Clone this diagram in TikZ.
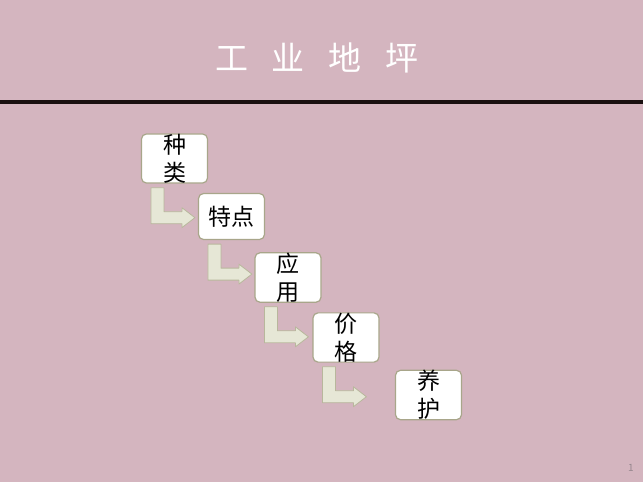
\documentclass[tikz,border=0pt]{standalone}
\usepackage{fontspec}
\setmainfont{Noto Sans CJK SC}
\usetikzlibrary{positioning,calc}

\definecolor{bgpink}{RGB}{212,181,191}
\definecolor{boxline}{RGB}{168,166,138}
\definecolor{arrowfill}{RGB}{230,231,214}
\definecolor{arrowline}{RGB}{184,183,156}
\definecolor{rulecol}{RGB}{26,16,16}
\definecolor{pagecol}{RGB}{150,135,142}

\tikzset{
  box/.style={draw=boxline, line width=1.2pt, fill=white, rounded corners=5pt,
    minimum width=66pt, minimum height=46pt, inner sep=0pt, align=center,
    font=\fontsize{23}{28}\selectfont},
  bentarrow/.style={draw=arrowline, line width=0.8pt, fill=arrowfill, line join=round}
}

\begin{document}
\begin{tikzpicture}[x=1pt, y=-1pt, on grid]
      \fill[bgpink] (0,0) rectangle (643,482);
      \useasboundingbox (0,0) rectangle (643,482);
      \node[text=white, font=\fontsize{33}{33}\selectfont] (title) at (317,58)
        {工\hspace{24pt}业\hspace{24pt}地\hspace{24pt}坪};
      \coordinate (rule_l) at (0,102);
      \coordinate (rule_r) at (643,102);
      \draw[rulecol, line width=4pt] (rule_l) -- (rule_r);

      \node[box]  (zhonglei)  at (174.5,158.5)                          {种\\类};
      \node[box]  (tedian)    [below right=58pt and 57pt of zhonglei]   {特点};
      \node[box]  (yingyong)  [below right=61pt and 56.5pt of tedian]   {应\\用};
      \node[box]  (jiage)     [below right=60pt and 58pt of yingyong]   {价\\格};
      \node[box]  (yanghu)    [below right=57.5pt and 82.5pt of jiage]  {养\\护};
        \foreach \a in {zhonglei,tedian,yingyong,jiage}
          \filldraw[bentarrow] let \p1=(\a.south west) in
            (\x1+10pt,\y1-4pt) -- (\x1+10pt,\y1-40pt) -- (\x1+41pt,\y1-40pt)
            -- (\x1+41pt,\y1-44pt) -- (\x1+54pt,\y1-34pt) -- (\x1+41pt,\y1-24pt)
            -- (\x1+41pt,\y1-28pt) -- (\x1+23pt,\y1-28pt) -- (\x1+23pt,\y1-4pt) -- cycle;

      \node[text=pagecol, font=\fontsize{10}{10}\selectfont] (page) at (631,468) {1};
\end{tikzpicture}
\end{document}
